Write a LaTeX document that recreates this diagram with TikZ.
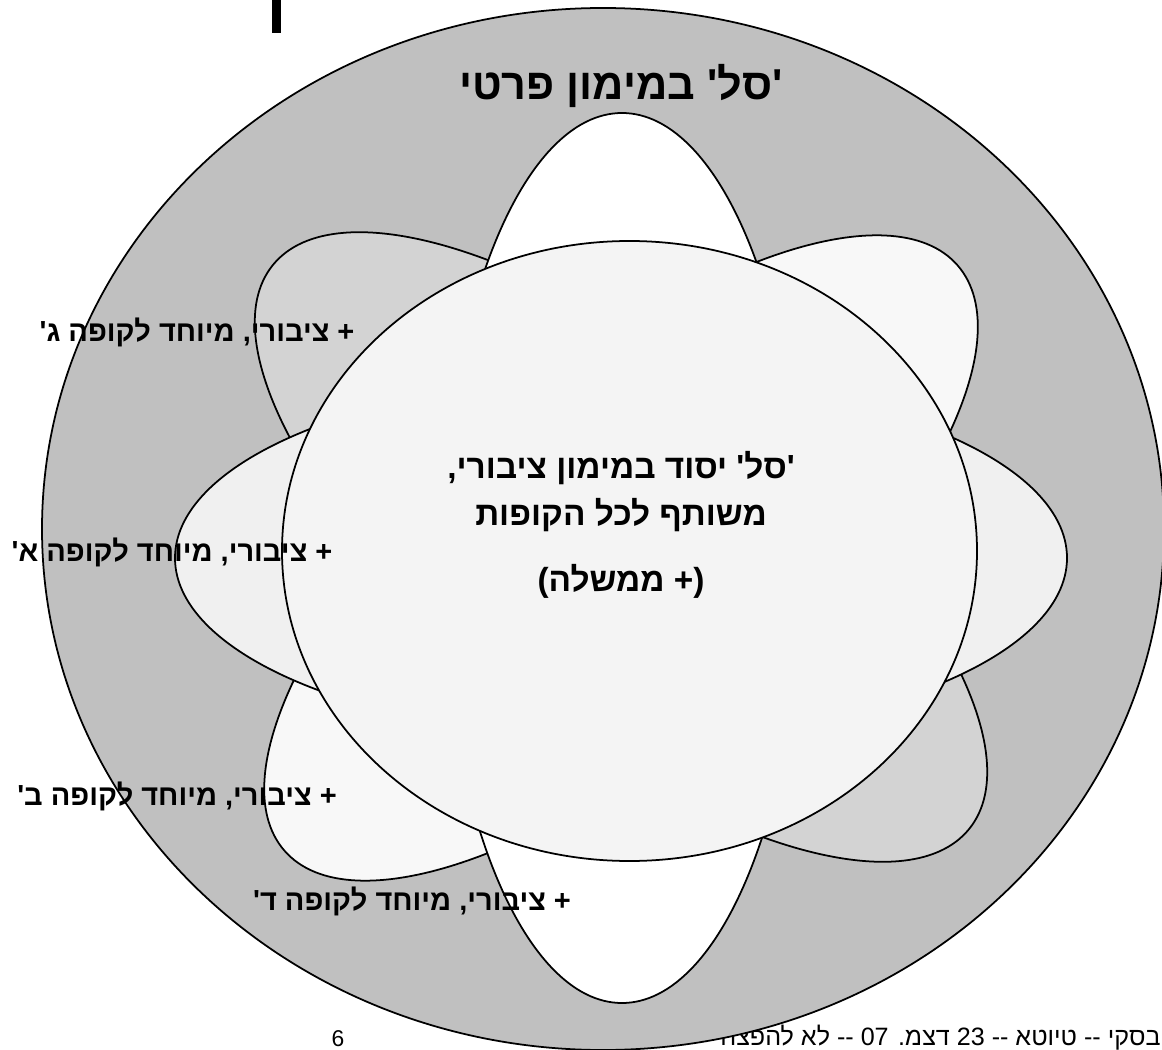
\documentclass[tikz,border=0pt]{standalone}
\usepackage{fontspec}
\setmainfont{Liberation Sans}
\newfontfamily\hebfont[Script=Hebrew]{Liberation Sans}
\TeXXeTstate=1
\definecolor{privgray}{HTML}{C0C0C0}
\definecolor{diagA}{HTML}{D3D3D3}
\definecolor{diagB}{HTML}{F8F8F8}
\definecolor{horiz}{HTML}{F0F0F0}
\definecolor{coregray}{HTML}{F4F4F4}
\newcommand{\q}{\textquotesingle}

\begin{document}
\begin{tikzpicture}[
  x=0.02cm,y=-0.02cm,
  petal/.style={draw=black,line width=1pt},
  lbl/.style={inner sep=0pt,font=\hebfont\bfseries\fontsize{16.5}{19}\selectfont},
  ttl/.style={inner sep=0pt,font=\hebfont\bfseries\fontsize{24.6}{30}\selectfont},
  ctr/.style={inner sep=0pt,align=center,font=\hebfont\bfseries\fontsize{19}{26.5}\selectfont},
  ftr/.style={inner sep=0pt,font=\hebfont\fontsize{14.3}{16}\selectfont},
]
  \useasboundingbox (0,0) rectangle (1162,1050);
  \clip (0,0) rectangle (1162,1050);

  % footer (lies under the big ellipse)
  \node[ftr,anchor=east] (footer) at (1161,1038)
    {\beginR בסקי -{}- טיוטא -{}- 23 דצמ. 07 -{}- לא להפצה\endR};
  \node[ftr,font=\fontsize{13}{15}\selectfont] (pagenum) at (338,1039) {6};
  \fill (272,0) rectangle (281,33);

  % outer: private funding
  \draw[petal,fill=privgray] (603,529) ellipse [x radius=561,y radius=521];

  % petals: one per kupa
  \draw[petal,fill=diagA,rotate around={-39:(621,547)}]
    (621,547) ellipse [x radius=448,y radius=180];
  \draw[petal,fill=diagB,rotate around={41:(621,558)}]
    (621,558) ellipse [x radius=446,y radius=180];
  \draw[petal,fill=horiz] (621,558) ellipse [x radius=446,y radius=180];
  \draw[petal,fill=white] (622,558) ellipse [x radius=180,y radius=445];

  % core basket
  \draw[petal,fill=coregray] (629.5,551) ellipse [x radius=347.5,y radius=310];

  \node[ttl] (title) at (621,86) {\beginR\q סל\q{} במימון פרטי\endR};
  \node[ctr] (core) at (621,525)
    {\beginR\q סל\q{} יסוד במימון ציבורי,\endR\\
     \beginR משותף לכל הקופות\endR\\[11pt]
     \beginR (+ ממשלה)\endR};

  \node[lbl] (kupaG) at (197,332) {\beginR + ציבורי, מיוחד לקופה ג\q\endR};
  \node[lbl] (kupaA) at (172,552) {\beginR + ציבורי, מיוחד לקופה א\q\endR};
  \node[lbl] (kupaB) at (177,796) {\beginR + ציבורי, מיוחד לקופה ב\q\endR};
  \node[lbl] (kupaD) at (412,901) {\beginR + ציבורי, מיוחד לקופה ד\q\endR};
\end{tikzpicture}
\end{document}
